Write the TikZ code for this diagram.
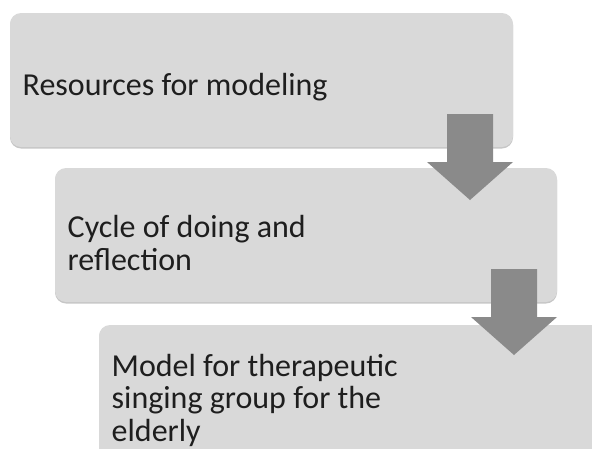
\documentclass[tikz,border=0pt]{standalone}
\usepackage{fontspec}
\setmainfont{Carlito}
\definecolor{boxfill}{HTML}{D9D9D9}
\definecolor{boxedge}{HTML}{C6C6C6}
\definecolor{arrowfill}{HTML}{8A8A8A}
\definecolor{txt}{HTML}{1E1E1E}
\begin{document}
\begin{tikzpicture}[x=1pt,y=-1pt,
  stepbox/.style={fill=boxfill,rounded corners=11pt},
  stepshadow/.style={fill=boxedge,rounded corners=11pt},
  steptext/.style={anchor=base west,inner sep=0pt,text=txt,font=\fontsize{32}{32.5}\selectfont,align=left}]
\useasboundingbox (0,0) rectangle (592,448);
\clip (0,0) rectangle (592,448);
\newcommand\blockarrow[2]{%
  \fill[arrowfill] (#1-23,#2) -- (#1+23,#2) -- (#1+23,#2+48) -- (#1+43,#2+48)
    -- (#1,#2+86) -- (#1-43,#2+48) -- (#1-23,#2+48) -- cycle;}
% box 1
\fill[stepshadow] (10,14) rectangle (513,148.5);
\fill[stepbox] (10,13) rectangle (513,147);
\coordinate (b1) at (22.5,95.5);
\node[steptext] (t1) at (b1) {Resources for modeling};
% box 2
\fill[stepshadow] (55,169) rectangle (557,303.5);
\fill[stepbox] (55,168) rectangle (557,302);
\coordinate (b2) at (67.5,270);
\node[steptext] (t2) at (b2) {Cycle of doing and\\reflection};
% arrow 1
\blockarrow{470}{114}
% box 3
\fill[stepshadow] (99,326) rectangle (620,470);
\fill[stepbox] (99,325) rectangle (620,470);
\coordinate (b3) at (111.5,441);
\node[steptext] (t3) at (b3) {Model for therapeutic\\singing group for the\\elderly};
% arrow 2
\blockarrow{514}{269}
\end{tikzpicture}
\end{document}
